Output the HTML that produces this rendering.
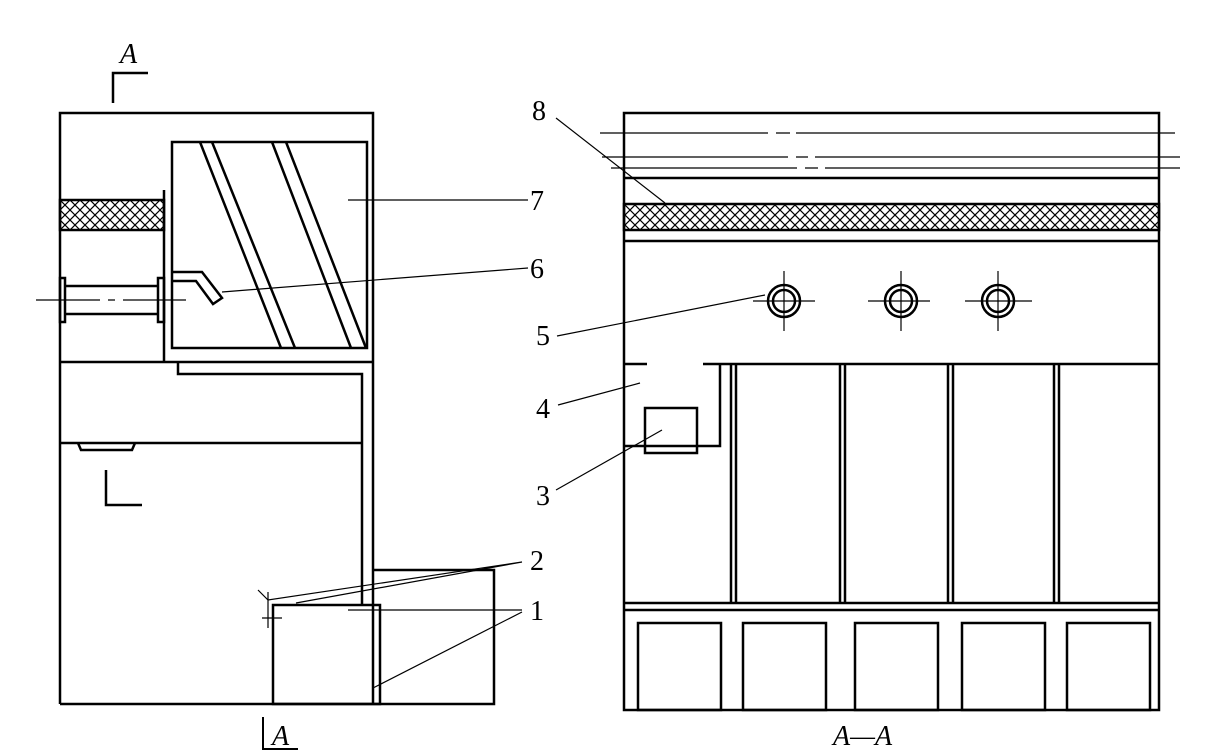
<!DOCTYPE html>
<html><head><meta charset="utf-8"><style>
html,body{margin:0;padding:0;background:#fff}
svg{display:block}
text{font-family:"Liberation Serif",serif;font-size:28px;fill:#000}
</style></head><body>
<svg width="1217" height="753" viewBox="0 0 1217 753" xmlns="http://www.w3.org/2000/svg">
<defs>
<pattern id="h" width="10" height="10" patternUnits="userSpaceOnUse">
<path d="M0,0L10,10M10,0L0,10" stroke="#000" stroke-width="1.2"/>
</pattern>
</defs>
<g fill="none" stroke="#000" stroke-width="2.5">
<!-- LEFT VIEW -->
<path d="M60,704V113H373V704"/>
<path d="M60,704H494V570H372"/>
<rect x="273" y="605" width="107" height="99"/>
<path d="M362,605V374H178V362"/>
<path d="M60,362H373"/>
<path d="M60,443H362"/>
<path d="M78,443L81,450H132L135,443"/>
<path d="M164,190V362"/>
<rect x="60" y="200" width="104" height="30" fill="url(#h)"/>
<rect x="60" y="278" width="5" height="44"/>
<rect x="158" y="278" width="6" height="44"/>
<path d="M65,286H158M65,314H158"/>
<rect x="172" y="142" width="195" height="206"/>
<path d="M200,142L281,348M212,142L295,348M272,142L351,348M286,142L366,348"/>
<path d="M172,272H202L222,298L213,304L196,281H172"/>
<!-- section marks -->
<path d="M113,103V73H148"/>
<path d="M106,470V505H142"/>
<path d="M263,717V749H298" stroke-width="2"/>
<!-- RIGHT VIEW -->
<rect x="624" y="113" width="535" height="597"/>
<path d="M624,178H1159M624,241H1159"/>
<rect x="624" y="204" width="535" height="26" fill="url(#h)"/>
<path d="M624,364H647M703,364H1159"/>
<path d="M720,364V446H624"/>
<rect x="645" y="408" width="52" height="45"/>
<path d="M731,364V603M736,364V603M840,364V603M845,364V603M948,364V603M953,364V603M1054,364V603M1059,364V603"/>
<path d="M624,603H1159M624,610H1159"/>
<rect x="638" y="623" width="83" height="87"/>
<rect x="743" y="623" width="83" height="87"/>
<rect x="855" y="623" width="83" height="87"/>
<rect x="962" y="623" width="83" height="87"/>
<rect x="1067" y="623" width="83" height="87"/>
<circle cx="784" cy="301" r="16"/><circle cx="784" cy="301" r="11"/>
<circle cx="901" cy="301" r="16"/><circle cx="901" cy="301" r="11"/>
<circle cx="998" cy="301" r="16"/><circle cx="998" cy="301" r="11"/>
</g>
<g fill="none" stroke="#000" stroke-width="1.2">
<path d="M36,300H100M108,300H115M123,300H186"/>
<path d="M753,301H815M784,271V331M868,301H930M901,271V331M965,301H1032M998,271V331"/>
<path d="M600,133H768M776,133H790M796,133H1175"/>
<path d="M602,157H788M796,157H808M815,157H1180"/>
<path d="M611,168H797M805,168H818M825,168H1180"/>
<!-- leaders -->
<path d="M348,200H528"/>
<path d="M222,292L528,268"/>
<path d="M258,590L268,600L522,562M296,603L522,562"/>
<path d="M348,610H522M373,688L522,612"/>
<path d="M268,592V628M262,618H282"/>
<path d="M556,118L665,203"/>
<path d="M557,336L765,295"/>
<path d="M558,405L640,383"/>
<path d="M556,490L662,430"/>
</g>
<text x="120" y="63" font-style="italic">A</text>
<text x="272" y="745" font-style="italic">A</text>
<text x="530" y="210">7</text>
<text x="530" y="278">6</text>
<text x="530" y="570">2</text>
<text x="530" y="620">1</text>
<text x="532" y="120">8</text>
<text x="536" y="345">5</text>
<text x="536" y="418">4</text>
<text x="536" y="505">3</text>
<text x="833" y="745" font-style="italic">A—A</text>
</svg>
</body></html>
